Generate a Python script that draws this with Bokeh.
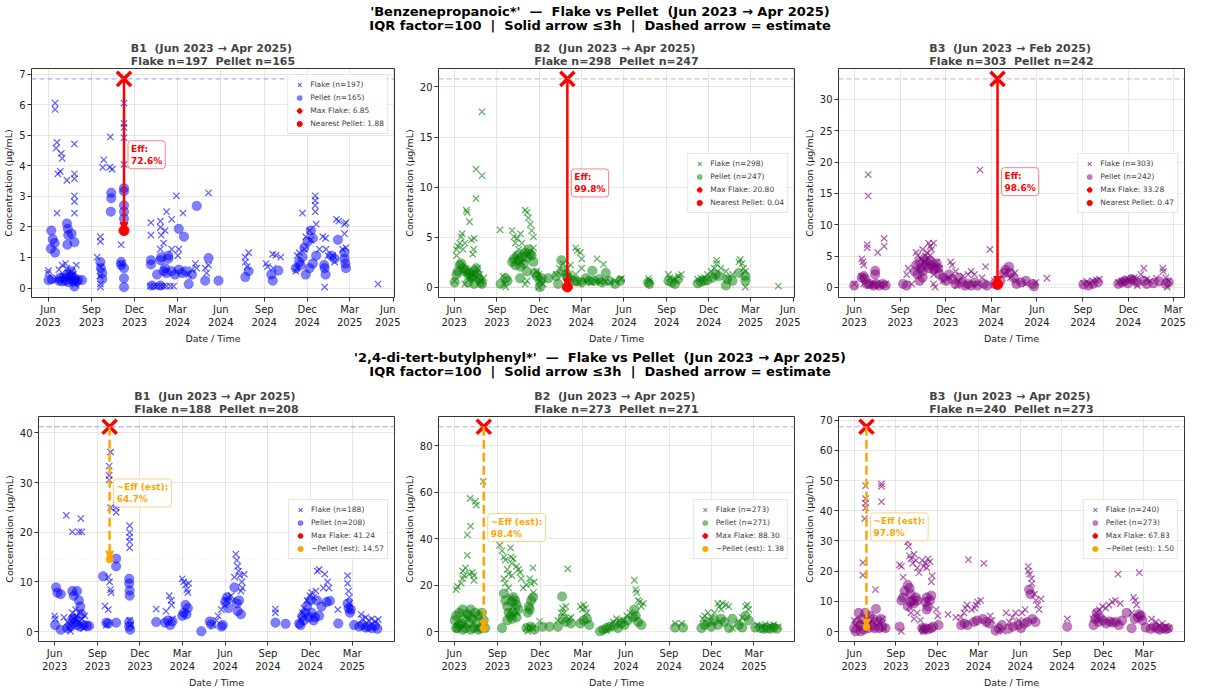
import pandas as pd
from bokeh.plotting import figure
from bokeh.models import (ColumnDataSource, Span, Arrow, NormalHead, Label, FixedTicker,
                          Div, Range1d, DatetimeTickFormatter)
from bokeh.layouts import column, row
from bokeh.embed import file_html
from bokeh.resources import INLINE

FONT = "DejaVu Sans"
NB = "\u00a0"

# ----------------------------------------------------------------- data
SUPTITLE_TOP = ["'Benzenepropanoic*'  \u2014  Flake vs Pellet  (Jun 2023 \u2192 Apr 2025)",
                "IQR factor=100  |  Solid arrow \u22643h  |  Dashed arrow = estimate"]
SUPTITLE_BOT = ["'2,4-di-tert-butylphenyl*'  \u2014  Flake vs Pellet  (Jun 2023 \u2192 Apr 2025)",
                "IQR factor=100  |  Solid arrow \u22643h  |  Dashed arrow = estimate"]

X_TICKS = ["2023-06-01", "2023-09-01", "2023-12-01", "2024-03-01", "2024-06-01",
           "2024-09-01", "2024-12-01", "2025-03-01", "2025-06-01"]

TOP_B1_FLAKE = [
    ("2023-06-01", 0.49), ("2023-06-02", 0.57), ("2023-06-16", 6.06), ("2023-06-16", 5.85), ("2023-06-16", 0.26),
    ("2023-06-20", 4.77), ("2023-06-18", 4.58), ("2023-06-29", 4.41), ("2023-07-01", 4.25), ("2023-06-22", 3.74),
    ("2023-06-27", 3.82), ("2023-06-20", 2.45), ("2023-06-24", 0.60), ("2023-07-01", 0.75), ("2023-07-04", 0.39),
    ("2023-07-08", 0.80), ("2023-07-11", 0.65), ("2023-07-14", 0.49), ("2023-07-18", 0.34), ("2023-07-21", 0.55),
    ("2023-07-25", 0.44), ("2023-07-28", 0.13), ("2023-07-31", 0.75), ("2023-07-11", 3.53), ("2023-07-27", 4.72),
    ("2023-07-27", 3.74), ("2023-07-27", 3.58), ("2023-07-27", 3.02), ("2023-07-27", 2.83), ("2023-07-27", 2.45),
    ("2023-09-13", 1.01), ("2023-09-20", 1.68), ("2023-09-20", 1.52), ("2023-09-20", 0.70), ("2023-09-19", 0.39),
    ("2023-09-20", 0.13), ("2023-09-20", 0.03), ("2023-09-27", 4.20), ("2023-09-25", 3.95), ("2023-10-11", 4.95),
    ("2023-10-10", 3.96), ("2023-10-15", 3.89), ("2023-11-03", 1.42), ("2023-11-09", 6.06), ("2023-11-09", 5.39),
    ("2023-11-09", 5.26), ("2023-11-09", 4.92), ("2023-11-09", 4.05), ("2023-11-03", 0.80),
    ("2024-01-05", 2.14), ("2024-01-05", 1.73), ("2024-01-25", 2.19), ("2024-01-25", 1.99), ("2024-01-27", 1.73),
    ("2024-01-25", 1.27), ("2024-02-01", 1.47), ("2024-02-04", 1.88), ("2024-02-07", 2.50), ("2024-02-18", 2.25),
    ("2024-02-18", 1.27), ("2024-02-28", 3.02), ("2024-03-02", 1.06), ("2024-03-04", 1.27), ("2024-03-13", 2.45),
    ("2024-01-04", 0.06), ("2024-01-11", 0.06), ("2024-01-18", 0.06), ("2024-01-25", 0.06), ("2024-02-01", 0.06),
    ("2024-02-07", 0.06), ("2024-02-15", 0.06), ("2024-02-22", 0.06),
    ("2024-03-25", 0.44), ("2024-04-01", 0.60), ("2024-04-08", 0.80), ("2024-04-11", 0.65), ("2024-04-29", 0.65),
    ("2024-05-02", 0.49), ("2024-05-06", 3.12), ("2024-05-06", 0.75),
    ("2024-07-23", 1.01), ("2024-07-23", 0.85), ("2024-07-30", 1.16), ("2024-07-27", 0.70), ("2024-09-05", 0.80),
    ("2024-09-08", 0.70), ("2024-09-19", 1.11), ("2024-09-20", 0.65), ("2024-09-26", 1.08), ("2024-10-06", 1.01),
    ("2024-11-07", 0.55), ("2024-11-09", 0.65), ("2024-11-10", 1.06), ("2024-11-14", 1.16), ("2024-11-21", 2.45),
    ("2024-11-25", 1.27), ("2024-11-28", 1.68), ("2024-12-06", 1.88), ("2024-12-09", 1.58), ("2024-12-18", 3.02),
    ("2024-12-18", 2.86), ("2024-12-18", 2.71), ("2024-12-18", 2.50), ("2024-12-20", 2.09), ("2024-12-27", 1.27),
    ("2025-01-03", 1.68), ("2025-01-09", 1.63), ("2025-01-10", 1.27), ("2025-01-07", 0.03), ("2025-01-14", 1.06),
    ("2025-01-24", 1.06), ("2025-01-28", 0.85), ("2025-02-01", 2.25), ("2025-02-06", 2.19), ("2025-02-18", 2.09),
    ("2025-02-21", 2.14), ("2025-02-18", 1.78), ("2025-02-14", 1.27), ("2025-02-21", 1.32), ("2025-04-30", 0.13),
]
TOP_B1_PELLET = [
    ("2023-06-02", 0.26), ("2023-06-08", 1.88), ("2023-06-11", 1.60), ("2023-06-15", 1.47), ("2023-06-07", 1.29),
    ("2023-06-16", 1.16), ("2023-06-09", 0.29), ("2023-06-24", 0.24), ("2023-06-27", 0.34), ("2023-07-01", 0.22),
    ("2023-07-04", 0.34), ("2023-07-08", 0.24), ("2023-07-11", 0.44), ("2023-07-14", 0.19), ("2023-07-18", 0.29),
    ("2023-07-21", 0.39), ("2023-07-25", 0.24), ("2023-07-27", 0.05), ("2023-07-28", 0.32), ("2023-07-31", 0.22),
    ("2023-08-04", 0.26), ("2023-08-12", 0.26), ("2023-07-20", 0.55),
    ("2023-07-11", 2.11), ("2023-07-13", 1.94), ("2023-07-14", 1.73), ("2023-07-21", 1.78), ("2023-07-12", 1.42),
    ("2023-07-27", 1.50),
    ("2023-09-20", 0.85), ("2023-09-21", 0.65), ("2023-09-24", 0.49), ("2023-09-24", 0.29), ("2023-10-13", 3.12),
    ("2023-10-13", 2.94), ("2023-10-12", 2.50), ("2023-11-09", 3.27), ("2023-11-09", 3.17), ("2023-11-09", 2.71),
    ("2023-11-09", 2.50), ("2023-11-09", 2.27), ("2023-11-03", 0.85), ("2023-11-03", 0.75), ("2023-11-09", 0.65),
    ("2023-11-09", 0.32), ("2023-11-09", 0.03),
    ("2024-01-05", 0.91), ("2024-01-05", 0.77), ("2024-01-25", 0.91), ("2024-01-27", 1.01), ("2024-02-11", 1.06),
    ("2024-02-11", 0.96), ("2024-01-25", 0.08), ("2024-02-04", 0.65), ("2024-02-07", 0.49), ("2024-02-18", 0.55),
    ("2024-02-25", 0.44), ("2024-03-04", 1.94), ("2024-03-15", 1.68), ("2024-04-11", 2.69), ("2024-03-18", 0.55),
    ("2024-03-25", 0.13), ("2024-04-01", 0.44), ("2024-03-04", 0.60), ("2024-03-11", 0.49), ("2024-04-29", 0.24),
    ("2024-05-06", 0.98), ("2024-05-27", 0.24), ("2024-01-07", 0.08), ("2024-01-18", 0.44), ("2024-02-01", 0.55),
    ("2024-07-23", 0.36), ("2024-07-30", 0.55), ("2024-09-16", 0.44), ("2024-09-19", 0.24), ("2024-10-01", 0.57),
    ("2024-11-07", 0.65), ("2024-11-14", 0.85), ("2024-11-17", 0.75), ("2024-11-21", 1.01), ("2024-11-25", 1.32),
    ("2024-11-28", 0.44), ("2024-12-02", 1.52), ("2024-12-06", 0.65), ("2024-12-09", 1.88), ("2024-12-13", 1.63),
    ("2024-12-13", 0.80), ("2024-12-20", 1.06), ("2025-01-07", 0.65), ("2025-01-09", 0.44), ("2025-01-06", 0.75),
    ("2025-01-21", 1.06), ("2025-01-28", 0.96), ("2025-02-04", 1.58), ("2025-02-18", 1.16), ("2025-02-18", 0.96),
    ("2025-02-20", 0.80), ("2025-02-21", 0.65),
]

TOP_B2_FLAKE = [
    ("2023-06-02", 0.66), ("2023-06-06", 3.17), ("2023-06-06", 3.79), ("2023-06-09", 4.10), ("2023-06-13", 4.42),
    ("2023-06-16", 5.05), ("2023-06-18", 5.36), ("2023-06-20", 3.79), ("2023-06-24", 4.42), ("2023-06-27", 7.71),
    ("2023-06-29", 7.49), ("2023-07-04", 6.55), ("2023-07-08", 4.73), ("2023-07-11", 3.32), ("2023-07-13", 3.79),
    ("2023-07-14", 4.89), ("2023-07-18", 8.87), ("2023-07-18", 11.79), ("2023-07-31", 11.16), ("2023-07-31", 17.52),
    ("2023-07-21", 1.91), ("2023-07-25", 1.29), ("2023-07-28", 0.66), ("2023-06-24", 0.34), ("2023-07-08", 0.97),
    ("2023-08-04", 0.97),
    ("2023-09-08", 5.74), ("2023-09-14", 1.13), ("2023-09-17", 0.34), ("2023-09-20", 0.03),
    ("2023-10-04", 5.67), ("2023-10-08", 5.05), ("2023-10-11", 4.42), ("2023-10-15", 4.89), ("2023-10-18", 3.79),
    ("2023-10-22", 5.36), ("2023-10-25", 4.42), ("2023-10-29", 3.48), ("2023-11-01", 7.71), ("2023-11-05", 7.49),
    ("2023-11-08", 6.93), ("2023-11-12", 6.30), ("2023-11-15", 5.67), ("2023-11-19", 5.05), ("2023-11-19", 3.95),
    ("2023-10-15", 3.17), ("2023-10-22", 2.54), ("2023-11-01", 0.34), ("2023-11-05", 0.66), ("2023-11-26", 1.60),
    ("2023-11-30", 1.29), ("2023-12-03", 0.66), ("2023-12-10", 0.34), ("2023-11-30", 0.03),
    ("2024-01-07", 1.29), ("2024-01-14", 1.91), ("2024-01-21", 2.38), ("2024-01-31", 1.91), ("2024-02-04", 1.29),
    ("2024-02-07", 2.23), ("2024-02-18", 3.95), ("2024-02-21", 3.64), ("2024-02-28", 3.48), ("2024-03-02", 2.85),
    ("2024-03-02", 1.91), ("2024-04-04", 2.85), ("2024-04-18", 2.29), ("2024-02-18", 1.29),
    ("2024-02-25", 0.50), ("2024-03-11", 0.66), ("2024-03-22", 0.50), ("2024-04-01", 0.60), ("2024-04-11", 0.50),
    ("2024-04-22", 0.60), ("2024-05-03", 0.50), ("2024-05-13", 0.66), ("2024-05-24", 0.82), ("2024-05-27", 0.91),
    ("2024-07-24", 0.91), ("2024-07-26", 0.66), ("2024-09-05", 1.29), ("2024-09-08", 0.97), ("2024-09-19", 0.82),
    ("2024-09-26", 1.13), ("2024-10-03", 1.29),
    ("2024-11-07", 0.82), ("2024-11-14", 0.91), ("2024-11-21", 0.97), ("2024-11-28", 1.29), ("2024-12-06", 1.60),
    ("2024-12-13", 1.91), ("2024-12-18", 2.70), ("2024-12-18", 2.38), ("2024-12-27", 1.91), ("2025-01-07", 1.60),
    ("2025-01-10", 0.97), ("2025-01-21", 1.29), ("2025-02-04", 2.54), ("2025-02-07", 2.79), ("2025-02-11", 2.38),
    ("2025-02-14", 1.91), ("2025-02-18", 0.03), ("2025-02-18", 1.60), ("2025-04-30", 0.13),
]
TOP_B2_PELLET = [
    ("2023-06-02", 0.50), ("2023-06-06", 1.29), ("2023-06-09", 1.60), ("2023-06-13", 2.23), ("2023-06-16", 2.38),
    ("2023-06-20", 1.91), ("2023-06-24", 1.60), ("2023-06-27", 1.76), ("2023-07-01", 1.29), ("2023-07-04", 1.44),
    ("2023-07-08", 0.97), ("2023-07-11", 1.13), ("2023-07-14", 1.60), ("2023-07-18", 1.91), ("2023-07-21", 1.29),
    ("2023-07-25", 0.82), ("2023-07-28", 0.50), ("2023-07-31", 0.34), ("2023-07-01", 0.50), ("2023-07-14", 0.34),
    ("2023-09-09", 0.34), ("2023-09-20", 0.91), ("2023-09-24", 0.66),
    ("2023-10-04", 2.54), ("2023-10-08", 2.85), ("2023-10-11", 2.23), ("2023-10-15", 3.17), ("2023-10-18", 2.70),
    ("2023-10-22", 2.07), ("2023-10-25", 3.00), ("2023-10-29", 2.38), ("2023-11-01", 3.48), ("2023-11-05", 3.00),
    ("2023-11-08", 3.79), ("2023-11-12", 3.32), ("2023-11-15", 3.17), ("2023-11-19", 2.54), ("2023-10-21", 0.91),
    ("2023-11-05", 1.60), ("2023-11-22", 1.44), ("2023-11-26", 1.13), ("2023-12-03", 0.66), ("2023-12-07", 0.91),
    ("2023-12-21", 0.91), ("2023-12-03", 0.03),
    ("2024-01-07", 1.13), ("2024-01-11", 0.34), ("2024-01-18", 2.70), ("2024-01-21", 1.60), ("2024-01-28", 1.29),
    ("2024-01-31", 0.97), ("2024-02-07", 0.91), ("2024-02-14", 0.66), ("2024-02-21", 0.60), ("2024-03-02", 0.50),
    ("2024-03-11", 0.91), ("2024-03-18", 0.66), ("2024-03-25", 1.66), ("2024-03-28", 0.66), ("2024-04-08", 0.82),
    ("2024-04-15", 0.50), ("2024-04-23", 1.44), ("2024-04-29", 0.66), ("2024-05-13", 0.34), ("2024-05-24", 0.66),
    ("2024-07-23", 0.50), ("2024-07-26", 0.34), ("2024-09-05", 0.66), ("2024-09-12", 0.50), ("2024-09-19", 0.34),
    ("2024-09-26", 0.82),
    ("2024-11-07", 0.41), ("2024-11-14", 0.56), ("2024-11-21", 0.66), ("2024-11-28", 0.72), ("2024-12-09", 0.97),
    ("2024-12-16", 1.29), ("2024-12-23", 1.13), ("2025-01-07", 0.19), ("2025-01-10", 0.82), ("2025-01-21", 0.66),
    ("2025-02-04", 1.44), ("2025-02-18", 1.13), ("2025-02-18", 0.66),
]

TOP_B3_FLAKE = [
    ("2023-06-01", 0.55), ("2023-06-16", 4.57), ("2023-06-18", 4.06), ("2023-06-20", 3.56), ("2023-06-16", 1.81),
    ("2023-06-27", 6.82), ("2023-06-27", 6.32), ("2023-06-29", 18.01), ("2023-06-29", 14.60), ("2023-06-20", 0.55),
    ("2023-07-02", 0.30), ("2023-07-09", 0.55), ("2023-07-18", 5.57), ("2023-07-31", 7.83), ("2023-07-31", 6.57),
    ("2023-07-21", 0.30), ("2023-08-03", 0.55),
    ("2023-09-14", 2.06), ("2023-09-17", 3.06), ("2023-09-24", 0.55), ("2023-10-03", 5.57), ("2023-10-06", 5.07),
    ("2023-10-10", 3.06), ("2023-10-13", 4.57), ("2023-10-16", 6.07), ("2023-10-19", 4.06), ("2023-10-22", 5.07),
    ("2023-10-25", 5.57), ("2023-10-28", 7.07), ("2023-10-31", 6.57), ("2023-10-31", 5.07), ("2023-11-03", 6.07),
    ("2023-11-07", 7.07), ("2023-11-07", 2.06), ("2023-11-07", 0.55), ("2023-11-10", 0.05), ("2023-11-13", 4.06),
    ("2023-11-19", 3.06), ("2023-11-26", 1.05),
    ("2023-12-11", 4.06), ("2023-12-14", 3.56), ("2023-12-08", 1.56), ("2023-12-21", 2.56), ("2023-12-27", 1.05),
    ("2023-12-24", 0.30), ("2024-01-05", 1.81), ("2024-01-15", 2.06), ("2024-01-21", 2.56), ("2024-01-28", 2.06),
    ("2024-02-03", 0.55), ("2024-02-08", 18.77), ("2024-02-19", 3.31), ("2024-02-28", 6.07), ("2024-02-12", 1.56),
    ("2024-03-08", 1.05), ("2024-03-27", 2.06), ("2024-04-09", 1.56), ("2024-04-18", 2.31), ("2024-04-21", 1.05),
    ("2024-05-10", 0.55), ("2024-05-30", 0.80), ("2024-06-21", 1.46),
    ("2024-09-02", 0.65), ("2024-09-09", 0.95), ("2024-09-15", 0.55), ("2024-09-21", 1.05), ("2024-09-28", 1.15),
    ("2024-10-04", 1.30),
    ("2024-11-11", 0.80), ("2024-11-18", 1.05), ("2024-11-24", 1.15), ("2024-11-30", 1.30), ("2024-12-07", 1.46),
    ("2024-12-13", 1.56), ("2024-12-19", 0.30), ("2024-12-26", 2.06), ("2025-01-01", 3.06), ("2025-01-07", 1.30),
    ("2025-01-14", 1.05), ("2025-01-26", 1.46), ("2025-02-08", 3.06), ("2025-02-09", 2.56), ("2025-02-14", 1.56),
    ("2025-02-17", 0.05), ("2025-02-20", 1.05),
]
TOP_B3_PELLET = [
    ("2023-06-01", 0.30), ("2023-06-16", 1.56), ("2023-06-20", 1.81), ("2023-06-23", 1.30), ("2023-06-26", 0.55),
    ("2023-07-02", 0.55), ("2023-07-09", 0.30), ("2023-07-13", 2.66), ("2023-07-13", 2.06), ("2023-07-15", 0.55),
    ("2023-07-21", 0.30), ("2023-07-28", 0.55), ("2023-08-03", 0.30), ("2023-09-07", 0.55), ("2023-09-14", 0.30),
    ("2023-09-30", 2.56), ("2023-10-03", 3.56), ("2023-10-06", 2.06), ("2023-10-10", 4.06), ("2023-10-13", 3.06),
    ("2023-10-16", 2.56), ("2023-10-19", 4.57), ("2023-10-22", 3.56), ("2023-10-25", 4.06), ("2023-10-28", 3.06),
    ("2023-10-31", 4.31), ("2023-11-03", 3.56), ("2023-11-07", 2.81), ("2023-11-10", 3.06), ("2023-11-13", 3.81),
    ("2023-11-16", 3.06), ("2023-11-19", 2.06), ("2023-10-10", 1.05), ("2023-10-16", 1.56),
    ("2023-11-26", 1.56), ("2023-12-02", 1.05), ("2023-12-08", 2.06), ("2023-12-14", 1.30), ("2023-12-21", 0.55),
    ("2023-12-27", 1.56), ("2024-01-02", 0.80), ("2024-01-09", 0.30), ("2024-01-15", 0.55), ("2024-01-21", 0.30),
    ("2024-01-28", 0.80), ("2024-02-03", 0.30), ("2024-02-16", 0.55), ("2024-02-22", 0.30), ("2024-03-08", 0.55),
    ("2024-03-20", 1.05), ("2024-03-27", 2.31), ("2024-03-30", 2.81), ("2024-04-06", 3.31), ("2024-04-09", 2.31),
    ("2024-04-15", 1.56), ("2024-04-21", 0.55), ("2024-04-30", 0.80), ("2024-05-10", 1.05), ("2024-05-24", 0.55),
    ("2024-05-26", 0.15),
    ("2024-09-02", 0.45), ("2024-09-12", 0.30), ("2024-09-21", 0.55), ("2024-10-01", 0.80),
    ("2024-11-11", 0.55), ("2024-11-18", 0.80), ("2024-11-24", 1.05), ("2024-11-30", 0.65), ("2024-12-07", 1.30),
    ("2024-12-13", 1.05), ("2024-12-19", 0.80), ("2025-01-01", 1.05), ("2025-01-07", 0.55), ("2025-01-20", 0.65),
    ("2025-02-01", 0.95), ("2025-02-14", 0.55), ("2025-02-20", 0.80),
]

BOT_B1_FLAKE = [
    ("2023-06-01", 3.17), ("2023-06-02", 2.55), ("2023-06-21", 2.86), ("2023-06-26", 23.38), ("2023-07-09", 20.09),
    ("2023-07-23", 20.09), ("2023-07-27", 22.76), ("2023-07-29", 20.09), ("2023-06-28", 1.93), ("2023-07-05", 1.31),
    ("2023-07-09", 3.79), ("2023-07-12", 2.55), ("2023-07-16", 4.42), ("2023-07-19", 3.17), ("2023-07-23", 1.93),
    ("2023-07-26", 3.79), ("2023-07-29", 2.55), ("2023-08-02", 0.68), ("2023-08-05", 3.17), ("2023-07-05", 0.06),
    ("2023-07-01", 0.68),
    ("2023-09-17", 5.16), ("2023-09-24", 4.42), ("2023-09-24", 10.95), ("2023-09-27", 10.01), ("2023-09-29", 8.46),
    ("2023-09-30", 7.84), ("2023-09-20", 1.31), ("2023-09-29", 36.13), ("2023-09-26", 33.33), ("2023-09-26", 31.47),
    ("2023-09-26", 30.53), ("2023-09-29", 24.94), ("2023-10-11", 25.56), ("2023-10-11", 24.94), ("2023-10-11", 24.00),
    ("2023-11-09", 21.33), ("2023-11-09", 19.96), ("2023-11-09", 19.03), ("2023-11-09", 18.10), ("2023-11-09", 16.85),
    ("2023-11-09", 2.24), ("2023-11-11", 1.31),
    ("2024-01-05", 4.54), ("2024-01-26", 4.10), ("2024-02-02", 7.21), ("2024-02-06", 6.28), ("2024-02-07", 5.35),
    ("2024-02-09", 2.55), ("2024-03-01", 10.63), ("2024-03-04", 10.01), ("2024-03-08", 9.39), ("2024-03-11", 8.46),
    ("2024-03-15", 9.70), ("2024-03-13", 7.84),
    ("2024-05-06", 1.31), ("2024-05-13", 2.24), ("2024-05-17", 3.17), ("2024-05-24", 4.42), ("2024-05-31", 5.35),
    ("2024-06-04", 6.28), ("2024-06-07", 6.90), ("2024-06-14", 7.21), ("2024-06-17", 6.28), ("2024-06-21", 10.95),
    ("2024-06-24", 15.61), ("2024-06-26", 14.37), ("2024-06-28", 13.12), ("2024-06-30", 12.19), ("2024-07-03", 11.26),
    ("2024-07-07", 10.01), ("2024-07-08", 8.77), ("2024-07-05", 8.15), ("2024-07-12", 11.57),
    ("2024-09-17", 4.54), ("2024-09-17", 3.79),
    ("2024-11-10", 2.55), ("2024-11-14", 3.79), ("2024-11-17", 4.73), ("2024-11-24", 6.28), ("2024-11-30", 7.21),
    ("2024-12-04", 7.84), ("2024-12-08", 6.90), ("2024-12-13", 8.15), ("2024-12-16", 12.19), ("2024-12-20", 12.50),
    ("2024-12-29", 8.77), ("2025-01-01", 11.57), ("2025-01-07", 10.01), ("2025-01-10", 8.77), ("2025-01-29", 4.42),
    ("2025-02-19", 11.26), ("2025-02-19", 9.70), ("2025-02-21", 8.15), ("2025-02-23", 6.90), ("2025-02-23", 5.66),
    ("2025-03-20", 3.48), ("2025-03-23", 2.55), ("2025-03-30", 2.86), ("2025-04-05", 2.24), ("2025-04-12", 2.55),
    ("2025-04-19", 2.05), ("2025-04-26", 2.43),
]
BOT_B1_PELLET = [
    ("2023-06-04", 8.89), ("2023-06-07", 7.84), ("2023-06-14", 7.52), ("2023-06-02", 1.31), ("2023-06-14", 0.37),
    ("2023-06-28", 0.68), ("2023-07-05", 1.00), ("2023-07-09", 8.15), ("2023-07-12", 7.21), ("2023-07-19", 8.15),
    ("2023-07-23", 6.28), ("2023-07-26", 5.04), ("2023-07-29", 3.48), ("2023-07-12", 2.55), ("2023-07-16", 1.93),
    ("2023-07-19", 1.31), ("2023-07-26", 1.00), ("2023-08-02", 1.31), ("2023-08-09", 1.18), ("2023-08-14", 1.12),
    ("2023-07-09", 2.55),
    ("2023-09-13", 11.13), ("2023-09-20", 1.80), ("2023-09-24", 1.62), ("2023-10-11", 14.68), ("2023-10-11", 13.12),
    ("2023-10-11", 1.80), ("2023-11-08", 10.63), ("2023-11-08", 9.70), ("2023-11-09", 8.27), ("2023-11-09", 7.21),
    ("2023-11-08", 1.93), ("2023-11-08", 1.00), ("2023-11-10", 0.37),
    ("2024-01-05", 1.93), ("2024-01-24", 1.80), ("2024-01-30", 2.24), ("2024-02-04", 1.31), ("2024-02-09", 2.05),
    ("2024-03-01", 3.17), ("2024-03-04", 3.79), ("2024-03-08", 5.35), ("2024-03-13", 4.73), ("2024-03-10", 3.48),
    ("2024-04-11", 0.06), ("2024-04-29", 2.05), ("2024-05-02", 1.43), ("2024-05-24", 1.00), ("2024-05-27", 1.31),
    ("2024-06-01", 5.97), ("2024-06-05", 6.90), ("2024-06-08", 4.73), ("2024-06-21", 8.89), ("2024-06-26", 5.66),
    ("2024-06-28", 4.10), ("2024-07-01", 6.28), ("2024-07-05", 3.48),
    ("2024-09-17", 1.80), ("2024-10-09", 1.55),
    ("2024-11-07", 1.62), ("2024-11-10", 1.31), ("2024-11-14", 3.17), ("2024-11-17", 2.24), ("2024-11-21", 3.79),
    ("2024-11-24", 5.16), ("2024-11-28", 2.86), ("2024-12-01", 6.28), ("2024-12-04", 3.79), ("2024-12-08", 2.24),
    ("2024-12-11", 2.86), ("2024-12-15", 6.28), ("2024-12-20", 3.17), ("2024-12-25", 5.04), ("2025-01-05", 5.97),
    ("2025-01-12", 6.16), ("2025-01-30", 1.62), ("2025-02-19", 5.66), ("2025-02-21", 4.73), ("2025-02-24", 3.79),
    ("2025-02-26", 4.42),
    ("2025-03-05", 1.31), ("2025-03-16", 1.00), ("2025-03-23", 1.31), ("2025-03-30", 0.81), ("2025-04-05", 1.00),
    ("2025-04-12", 0.68), ("2025-04-19", 1.18), ("2025-04-24", 0.56),
]

BOT_B2_FLAKE = [
    ("2023-06-05", 18.1), ("2023-06-08", 19.4), ("2023-06-19", 26.1), ("2023-06-22", 24.1), ("2023-06-25", 27.4),
    ("2023-06-29", 32.8), ("2023-06-29", 41.7), ("2023-07-06", 45.4), ("2023-07-05", 57.4), ("2023-07-16", 56.1),
    ("2023-07-18", 54.5), ("2023-07-03", 24.8), ("2023-07-10", 25.4), ("2023-07-13", 24.1), ("2023-06-16", 20.8),
    ("2023-06-19", 22.8), ("2023-07-13", 22.1), ("2023-08-02", 64.7), ("2023-08-03", 1.5), ("2023-07-20", 1.5),
    ("2023-06-08", 2.8), ("2023-06-22", 2.1),
    ("2023-09-06", 37.2), ("2023-09-11", 34.8), ("2023-09-15", 32.1), ("2023-09-18", 30.8), ("2023-09-22", 26.8),
    ("2023-09-25", 24.8), ("2023-09-29", 36.1), ("2023-09-30", 32.1), ("2023-10-02", 29.4), ("2023-10-05", 31.4),
    ("2023-10-09", 45.4), ("2023-10-09", 42.1), ("2023-10-12", 28.1), ("2023-10-16", 26.8), ("2023-10-19", 25.4),
    ("2023-10-02", 24.1), ("2023-09-15", 22.8), ("2023-09-18", 20.8), ("2023-09-25", 18.8), ("2023-09-29", 14.8),
    ("2023-10-05", 10.8), ("2023-10-12", 8.1), ("2023-10-22", 22.8), ("2023-10-26", 18.8), ("2023-11-02", 20.1),
    ("2023-11-09", 22.8), ("2023-11-12", 20.8), ("2023-11-16", 27.4), ("2023-11-17", 16.8), ("2023-11-19", 21.4),
    ("2023-11-02", 1.5), ("2023-11-09", 2.1), ("2023-11-16", 1.5), ("2023-11-05", 0.1), ("2023-11-30", 4.4),
    ("2024-01-08", 4.8), ("2024-01-15", 8.1), ("2024-01-18", 10.1), ("2024-01-22", 8.1), ("2024-01-25", 10.8),
    ("2024-01-29", 27.0), ("2024-02-01", 5.5), ("2024-02-05", 6.1), ("2024-02-25", 10.8), ("2024-02-29", 9.5),
    ("2024-03-03", 11.5), ("2024-03-07", 10.1), ("2024-03-10", 8.1),
    ("2024-04-21", 0.4), ("2024-04-28", 1.5), ("2024-05-05", 4.1), ("2024-05-12", 5.5), ("2024-05-19", 4.8),
    ("2024-05-26", 4.8), ("2024-06-03", 6.8), ("2024-06-10", 8.1), ("2024-06-19", 22.1), ("2024-06-22", 18.1),
    ("2024-06-24", 16.8), ("2024-06-27", 13.4), ("2024-07-01", 12.8), ("2024-07-04", 10.8), ("2024-07-08", 12.1),
    ("2024-09-14", 3.5), ("2024-09-28", 3.5),
    ("2024-11-12", 5.5), ("2024-11-16", 6.8), ("2024-11-23", 8.1), ("2024-11-30", 6.1), ("2024-12-07", 8.1),
    ("2024-12-14", 12.1), ("2024-12-17", 10.8), ("2024-12-21", 9.5), ("2024-12-24", 12.1), ("2024-12-31", 11.5),
    ("2025-01-06", 10.8), ("2025-01-14", 1.5), ("2025-01-28", 4.1), ("2025-02-04", 6.1), ("2025-02-11", 10.8),
    ("2025-02-15", 11.5), ("2025-02-18", 9.5),
    ("2025-03-08", 2.8), ("2025-03-18", 2.1), ("2025-03-25", 3.1), ("2025-04-05", 2.4), ("2025-04-12", 2.8),
    ("2025-04-22", 2.1),
]
BOT_B2_PELLET = [
    ("2023-06-02", 4.8), ("2023-06-05", 6.8), ("2023-06-08", 1.5), ("2023-06-12", 8.1), ("2023-06-16", 3.5),
    ("2023-06-19", 9.5), ("2023-06-22", 5.5), ("2023-06-25", 1.5), ("2023-06-29", 7.5), ("2023-07-03", 3.5),
    ("2023-07-06", 9.5), ("2023-07-10", 5.5), ("2023-07-13", 1.5), ("2023-07-16", 8.1), ("2023-07-20", 4.1),
    ("2023-07-23", 6.8), ("2023-07-27", 1.5), ("2023-07-30", 8.1), ("2023-08-03", 4.8), ("2023-08-06", 1.5),
    ("2023-06-05", 1.5), ("2023-06-19", 0.8), ("2023-07-06", 0.8), ("2023-07-23", 0.8), ("2023-06-12", 2.8),
    ("2023-07-03", 6.8),
    ("2023-09-11", 1.5), ("2023-09-15", 16.4), ("2023-09-18", 13.4), ("2023-09-22", 10.8), ("2023-09-25", 8.1),
    ("2023-09-22", 4.8), ("2023-09-29", 6.8), ("2023-10-02", 12.8), ("2023-10-05", 14.8), ("2023-10-09", 13.4),
    ("2023-10-12", 11.5), ("2023-10-16", 9.5), ("2023-10-05", 8.1), ("2023-10-02", 5.5), ("2023-10-12", 6.1),
    ("2023-11-05", 8.1), ("2023-11-07", 10.8), ("2023-11-09", 9.5), ("2023-11-12", 13.4), ("2023-11-16", 14.8),
    ("2023-11-02", 1.5), ("2023-11-12", 2.1), ("2023-11-19", 0.8), ("2023-12-06", 2.1), ("2023-12-21", 2.1),
    ("2024-01-08", 2.1), ("2024-01-17", 15.1), ("2024-01-18", 5.5), ("2024-01-25", 4.1), ("2024-02-05", 3.5),
    ("2024-02-25", 3.5), ("2024-03-03", 4.8), ("2024-03-10", 5.5), ("2024-03-15", 2.8),
    ("2024-04-07", 0.1), ("2024-04-14", 0.8), ("2024-04-21", 1.5), ("2024-04-28", 2.1), ("2024-05-08", 2.8),
    ("2024-05-15", 1.5), ("2024-05-22", 3.5), ("2024-05-29", 2.8), ("2024-06-05", 4.8), ("2024-06-17", 6.1),
    ("2024-06-19", 9.5), ("2024-06-22", 6.8), ("2024-06-27", 4.1), ("2024-07-04", 2.8),
    ("2024-09-14", 1.7), ("2024-10-01", 1.7),
    ("2024-11-09", 1.5), ("2024-11-16", 2.8), ("2024-11-23", 4.1), ("2024-11-30", 2.1), ("2024-12-07", 4.8),
    ("2024-12-14", 2.8), ("2024-12-21", 5.5), ("2024-12-28", 4.1), ("2025-01-07", 1.5), ("2025-01-14", 5.5),
    ("2025-01-28", 2.8), ("2025-02-04", 1.7), ("2025-02-11", 6.8), ("2025-02-18", 4.8),
    ("2025-03-04", 1.7), ("2025-03-15", 1.5), ("2025-03-22", 1.2), ("2025-03-29", 1.5), ("2025-04-05", 1.2),
    ("2025-04-12", 1.7), ("2025-04-19", 1.2),
]

BOT_B3_FLAKE = [
    ("2023-06-01", 3.68), ("2023-06-04", 2.15), ("2023-06-20", 18.7), ("2023-06-20", 22.8), ("2023-06-26", 48.3),
    ("2023-06-26", 44.0), ("2023-06-26", 42.5), ("2023-06-26", 41.0), ("2023-06-24", 37.4), ("2023-07-16", 32.3),
    ("2023-07-18", 13.9), ("2023-07-31", 48.9), ("2023-07-31", 48.1), ("2023-07-31", 43.0), ("2023-06-18", 1.12),
    ("2023-07-02", 2.15), ("2023-07-09", 3.68), ("2023-07-19", 1.12), ("2023-07-26", 3.17), ("2023-08-02", 4.19),
    ("2023-08-05", 1.12),
    ("2023-09-09", 22.1), ("2023-09-13", 21.6), ("2023-09-13", 0.1), ("2023-09-17", 18.0), ("2023-09-24", 34.3),
    ("2023-09-27", 29.7), ("2023-09-29", 28.2), ("2023-10-01", 25.1), ("2023-10-04", 24.1), ("2023-10-08", 22.6),
    ("2023-10-11", 25.6), ("2023-10-15", 23.6), ("2023-10-18", 21.1), ("2023-10-22", 19.5), ("2023-10-01", 8.3),
    ("2023-10-04", 6.2), ("2023-10-11", 4.2), ("2023-10-18", 6.2), ("2023-10-25", 3.7), ("2023-10-29", 23.6),
    ("2023-11-01", 21.6), ("2023-11-05", 22.6), ("2023-11-08", 21.1), ("2023-11-11", 24.1), ("2023-11-15", 23.1),
    ("2023-11-18", 16.5), ("2023-11-20", 18.5), ("2023-10-29", 1.12), ("2023-11-01", 0.1), ("2023-11-29", 7.3),
    ("2023-12-02", 5.2),
    ("2023-12-25", 5.7), ("2024-01-11", 4.7), ("2024-01-22", 4.7), ("2024-01-29", 6.2), ("2024-02-01", 7.8),
    ("2024-02-05", 8.8), ("2024-02-08", 23.8), ("2024-02-15", 7.3), ("2024-02-22", 7.8), ("2024-02-25", 8.8),
    ("2024-02-28", 9.8), ("2024-03-06", 10.3), ("2024-03-13", 22.6), ("2024-03-27", 5.2), ("2024-03-31", 3.7),
    ("2024-04-17", 0.6), ("2024-04-24", 0.1), ("2024-05-01", 6.2), ("2024-05-08", 3.17), ("2024-05-15", 4.7),
    ("2024-05-22", 6.2), ("2024-05-29", 3.68), ("2024-06-05", 6.2), ("2024-06-12", 7.3), ("2024-06-19", 21.6),
    ("2024-06-19", 20.0), ("2024-06-22", 19.0), ("2024-06-26", 17.5), ("2024-06-27", 15.9), ("2024-07-03", 12.4),
    ("2024-07-06", 10.3), ("2024-07-10", 8.8), ("2024-07-17", 10.8), ("2024-07-13", 7.3),
    ("2024-09-13", 4.2),
    ("2024-11-09", 4.2), ("2024-11-16", 6.2), ("2024-11-23", 7.3), ("2024-11-30", 8.3), ("2024-12-07", 7.8),
    ("2024-12-14", 8.8), ("2024-12-21", 9.8), ("2024-12-28", 10.3), ("2025-01-03", 19.0), ("2025-01-08", 9.3),
    ("2025-02-03", 6.2), ("2025-02-06", 11.3), ("2025-02-10", 10.3), ("2025-02-13", 8.8), ("2025-02-19", 19.5),
    ("2025-03-18", 4.2), ("2025-03-28", 3.17), ("2025-04-04", 2.15), ("2025-04-11", 2.66), ("2025-04-18", 1.63),
    ("2025-04-25", 1.12),
]
BOT_B3_PELLET = [
    ("2023-06-01", 1.12), ("2023-06-04", 0.1), ("2023-06-08", 3.17), ("2023-06-11", 6.2), ("2023-06-15", 2.15),
    ("2023-06-18", 4.2), ("2023-06-22", 0.6), ("2023-06-25", 6.2), ("2023-06-29", 3.17), ("2023-07-02", 1.12),
    ("2023-07-05", 5.2), ("2023-07-09", 2.15), ("2023-07-13", 4.2), ("2023-07-16", 1.12), ("2023-07-19", 7.5),
    ("2023-07-23", 3.17), ("2023-07-26", 1.12), ("2023-07-30", 4.2), ("2023-08-02", 1.63), ("2023-08-09", 1.12),
    ("2023-06-15", 0.1),
    ("2023-09-09", 1.63), ("2023-09-13", 10.3), ("2023-09-17", 11.3), ("2023-09-20", 13.4), ("2023-09-27", 15.4),
    ("2023-10-01", 14.4), ("2023-10-04", 12.4), ("2023-10-08", 10.3), ("2023-10-11", 9.3), ("2023-10-15", 11.3),
    ("2023-10-18", 10.3), ("2023-09-27", 8.3), ("2023-10-04", 9.8), ("2023-11-05", 9.8), ("2023-11-08", 11.3),
    ("2023-11-11", 8.3), ("2023-11-15", 10.3), ("2023-11-18", 11.9), ("2023-11-08", 7.3), ("2023-10-29", 1.12),
    ("2023-11-01", 0.6), ("2023-11-05", 1.12), ("2023-11-11", 0.8), ("2023-11-18", 1.12), ("2023-11-22", 1.63),
    ("2023-12-04", 2.15),
    ("2024-01-23", 2.15), ("2024-01-30", 2.66), ("2024-02-06", 2.15), ("2024-02-20", 3.17), ("2024-02-27", 3.68),
    ("2024-03-11", 4.2), ("2024-03-18", 3.17), ("2024-03-25", 2.66),
    ("2024-04-08", 0.3), ("2024-04-15", 1.12), ("2024-04-22", 2.15), ("2024-05-06", 0.9), ("2024-05-16", 1.63),
    ("2024-05-27", 2.15), ("2024-06-03", 1.12), ("2024-06-10", 2.66), ("2024-06-17", 3.17), ("2024-06-21", 13.9),
    ("2024-06-24", 12.4), ("2024-06-28", 4.2), ("2024-07-05", 3.17),
    ("2024-09-13", 1.63),
    ("2024-11-10", 2.15), ("2024-11-14", 4.2), ("2024-11-17", 6.2), ("2024-11-21", 3.17), ("2024-11-24", 4.7),
    ("2024-12-01", 3.68), ("2024-12-08", 2.66), ("2024-12-15", 3.37), ("2024-12-22", 2.97), ("2024-12-29", 3.17),
    ("2025-01-05", 2.15), ("2025-01-12", 3.68), ("2025-01-22", 6.2), ("2025-02-02", 1.12), ("2025-02-09", 4.2),
    ("2025-02-16", 4.7), ("2025-02-19", 5.7), ("2025-02-23", 5.2), ("2025-02-26", 3.68),
    ("2025-03-05", 1.33), ("2025-03-16", 0.9), ("2025-03-23", 1.63), ("2025-03-30", 1.12), ("2025-04-05", 0.6),
    ("2025-04-12", 1.12), ("2025-04-19", 0.8), ("2025-04-24", 1.12),
]

# panel meta: name, date range text, flake n, pellet n, max-flake date, max flake, pellet value, efficiency
TOP_META = [("B1", "Jun 2023 \u2192 Apr 2025", 197, 165, "2023-11-09", 6.85, 1.88, "72.6%"),
            ("B2", "Jun 2023 \u2192 Apr 2025", 298, 247, "2024-01-31", 20.80, 0.04, "99.8%"),
            ("B3", "Jun 2023 \u2192 Feb 2025", 303, 242, "2024-03-14", 33.28, 0.47, "98.6%")]
BOT_META = [("B1", "Jun 2023 \u2192 Apr 2025", 188, 208, "2023-09-27", 41.24, 14.57, "64.7%"),
            ("B2", "Jun 2023 \u2192 Apr 2025", 273, 271, "2023-08-03", 88.30, 1.38, "98.4%"),
            ("B3", "Jun 2023 \u2192 Apr 2025", 240, 273, "2023-06-28", 67.83, 1.50, "97.8%")]

TOP_YTICKS = [[0, 1, 2, 3, 4, 5, 6, 7], [0, 5, 10, 15, 20], [0, 5, 10, 15, 20, 25, 30]]
BOT_YTICKS = [[0, 10, 20, 30, 40], [0, 20, 40, 60, 80], [0, 10, 20, 30, 40, 50, 60, 70]]

COLORS = ["#0000ff", "#008000", "#800080"]
LINE_COLORS = ["#8080ff", "#80c080", "#dd88dd"]


def ms(d):
    return pd.Timestamp(d).value // 10**6


def panel(meta, flake, pellet, yticks, color, light, estimate, width, height, legend_loc):
    name, rng, nf, np_, mdate, mval, pval, eff = meta
    fx = pd.to_datetime([d for d, _ in flake]); fy = [v for _, v in flake]
    px = pd.to_datetime([d for d, _ in pellet]); py = [v for _, v in pellet]
    allx = [ms(d) for d, _ in flake + pellet]
    ally = fy + py + [mval]
    x0, x1 = min(allx), max(allx)
    xp = (x1 - x0) * 0.05
    y0, y1 = min(ally), max(ally)
    yp = (y1 - y0) * 0.05
    title = f"{name}{NB} ({rng})\nFlake n={nf}{NB} Pellet n={np_}"
    p = figure(width=width, height=height, x_axis_type="datetime",
               x_range=Range1d(x0 - xp, x1 + xp), y_range=Range1d(y0 - yp, y1 + yp),
               output_backend="svg", toolbar_location=None, title=title,
               min_border_left=4, min_border_right=6, min_border_top=2, min_border_bottom=0)
    p.title.align = "center"
    p.title.text_font = FONT
    p.title.text_font_size = "11px"
    p.title.text_font_style = "bold"
    p.title.standoff = 2
    p.background_fill_color = "white"
    p.border_fill_color = "white"
    p.outline_line_color = "#333333"
    p.outline_line_width = 1
    p.grid.grid_line_color = "#b0b0b0"
    p.grid.grid_line_alpha = 0.3

    ticks = [ms(t) for t in X_TICKS if x0 - xp <= ms(t) <= x1 + xp]
    p.xaxis.ticker = FixedTicker(ticks=ticks)
    fmt = "%b\n%Y"
    p.xaxis.formatter = DatetimeTickFormatter(days=fmt, months=fmt, years=fmt, hours=fmt,
                                              minutes=fmt, seconds=fmt, milliseconds=fmt,
                                              microseconds=fmt, minsec=fmt, hourmin=fmt)
    p.yaxis.ticker = FixedTicker(ticks=yticks)
    for ax in (p.xaxis[0], p.yaxis[0]):
        ax.major_label_text_font = FONT
        ax.major_label_text_font_size = "10px"
        ax.major_label_text_color = "#222222"
        ax.axis_label_text_font = FONT
        ax.axis_label_text_font_size = "9.5px"
        ax.axis_label_text_font_style = "normal"
        ax.axis_label_text_color = "#222222"
        ax.axis_line_color = None
        ax.major_tick_in = 0
        ax.major_tick_out = 4
        ax.major_tick_line_color = "#333333"
        ax.minor_tick_line_color = None
        ax.major_label_standoff = 2
        ax.axis_label_standoff = 2
    p.xaxis.axis_label = "Date / Time"
    p.yaxis.axis_label = "Concentration (\u00b5g/mL)"

    # reference lines
    p.add_layout(Span(location=mval, dimension="width", line_color=light, line_alpha=0.8,
                      line_dash="5 3", line_width=1))
    pcol = "orange" if estimate else "red"
    p.add_layout(Span(location=pval, dimension="width", line_color=pcol, line_alpha=0.3,
                      line_dash="1 2", line_width=1))

    fsrc = ColumnDataSource(dict(x=fx, y=fy))
    psrc = ColumnDataSource(dict(x=px, y=py))
    p.scatter("x", "y", source=fsrc, marker="x", size=9, line_color=color, line_alpha=0.6,
              line_width=1.3, legend_label=f"Flake (n={nf})")
    p.scatter("x", "y", source=psrc, marker="circle", size=9.5, fill_color=color, fill_alpha=0.5,
              line_color=color, line_alpha=0.5, line_width=0.5, legend_label=f"Pellet (n={np_})")

    mx = ms(mdate)
    p.add_layout(Arrow(end=NormalHead(size=8, fill_color=pcol, line_color=pcol),
                       x_start=mx, y_start=mval, x_end=mx, y_end=pval,
                       line_color=pcol, line_width=2.5,
                       line_dash="9 4" if estimate else "solid"))
    p.scatter([mx], [mval], marker="x", size=20, line_color="red", line_width=3.5,
              legend_label=f"Max Flake: {mval:.2f}")
    if estimate:
        p.scatter([mx], [pval], marker="circle", size=7, fill_color="orange", line_color="orange",
                  legend_label=f"~Pellet (est): {pval:.2f}")
        etext = f"~Eff (est):\n{eff}"
    else:
        p.scatter([mx], [pval], marker="circle", size=10, fill_color="red", line_color="red",
                  legend_label=f"Nearest Pellet: {pval:.2f}")
        etext = f"Eff:\n{eff}"
    p.add_layout(Label(x=mx, y=(mval + pval) / 2, text=etext, x_offset=4, text_baseline="middle",
                       text_align="left", text_color=pcol, text_font=FONT, text_font_size="9px",
                       text_font_style="bold", background_fill_color="white",
                       background_fill_alpha=0.9, border_line_color=pcol, border_line_alpha=0.5,
                       padding=3, border_radius=3))

    lg = p.legend[0]
    lg.location = legend_loc
    lg.label_text_font = FONT
    lg.label_text_font_size = "7.5px"
    lg.label_height = 11
    lg.glyph_height = 13
    lg.glyph_width = 16
    lg.spacing = -1
    lg.padding = 3
    lg.margin = 6
    lg.label_standoff = 3
    lg.border_line_color = "#cccccc"
    lg.background_fill_alpha = 0.85
    return p


def title_div(lines, height):
    txt = "\n".join(lines)
    return Div(text=f'<div style="width:1190px;text-align:center;font-family:\'DejaVu Sans\';'
                    f'font-weight:bold;font-size:13px;line-height:14px;white-space:pre;color:#000;">{txt}</div>',
               width=1190, height=height)


WIDTHS = [400, 400, 390]
top_data = [(TOP_B1_FLAKE, TOP_B1_PELLET), (TOP_B2_FLAKE, TOP_B2_PELLET), (TOP_B3_FLAKE, TOP_B3_PELLET)]
bot_data = [(BOT_B1_FLAKE, BOT_B1_PELLET), (BOT_B2_FLAKE, BOT_B2_PELLET), (BOT_B3_FLAKE, BOT_B3_PELLET)]
top_loc = ["top_right", "right", "right"]

top_figs = [panel(TOP_META[i], *top_data[i], TOP_YTICKS[i], COLORS[i], LINE_COLORS[i], False,
                  WIDTHS[i], 308, top_loc[i]) for i in range(3)]
bot_figs = [panel(BOT_META[i], *bot_data[i], BOT_YTICKS[i], COLORS[i], LINE_COLORS[i], True,
                  WIDTHS[i], 304, "right") for i in range(3)]

layout = column(title_div(SUPTITLE_TOP, 28), row(*top_figs),
                title_div(SUPTITLE_BOT, 30), row(*bot_figs))

open("out.html", "w").write(file_html(layout, INLINE))
